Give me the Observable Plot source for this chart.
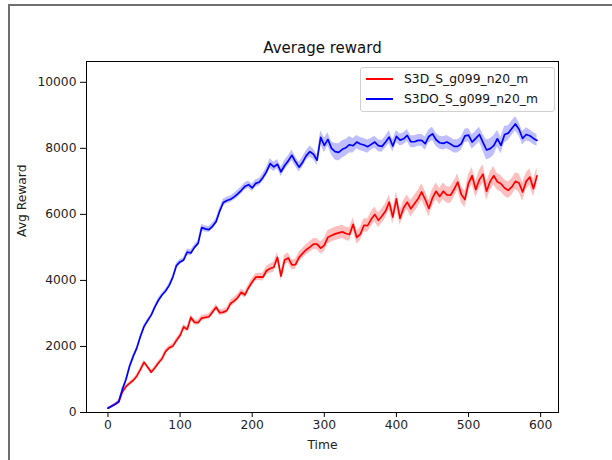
<!DOCTYPE html>
<html>
<head>
<meta charset="utf-8">
<script src="https://cdn.jsdelivr.net/npm/d3@7"></script>
<script src="https://cdn.jsdelivr.net/npm/@observablehq/plot@0.6"></script>
<style>
  body { margin: 0; background: white; }
  #wrap { position: relative; width: 612px; height: 460px; overflow: hidden; font-family: "DejaVu Sans", sans-serif; }
  #border { position: absolute; left: 8px; top: 4px; width: 700px; height: 600px; border-left: 2px solid #707070; border-top: 2px solid #707070; pointer-events: none; }
  #legend { position: absolute; left: 360px; top: 67px; width: 193px; height: 43px; border: 1px solid #d0d0d0; border-radius: 3px; background: rgba(255,255,255,0.85); font-size: 12.3px; }
  .item { position: absolute; left: 0; height: 16px; line-height: 16px; }
  .swatch { position: absolute; left: 5px; top: 7px; width: 27px; height: 2px; }
  .lab { position: absolute; left: 43px; top: 0; white-space: nowrap; color: #111; }
</style>
</head>
<body>
<div id="wrap">
  <div id="chart"></div>
  <div id="border"></div>
  <div id="legend"></div>
</div>
<script>
const times = d3.range(0, 600, 5);
const seriesNames = ["S3D_S_g099_n20_m", "S3DO_S_g099_n20_m"];
const seriesColors = ["#ff0000", "#0000ff"];
const xTicks = [0, 100, 200, 300, 400, 500, 600];
const yTicks = [0, 2000, 4000, 6000, 8000, 10000];

const redMean = [
  130,190,250,320,620,780,880,970,1100,1300,
  1520,1380,1220,1350,1500,1630,1850,1960,2010,2180,
  2330,2590,2520,2880,2730,2720,2860,2880,2900,3040,
  3190,3020,3040,3090,3300,3380,3480,3640,3560,3780,
  3950,4100,4110,4100,4300,4360,4400,4700,4130,4620,
  4680,4470,4480,4700,4820,4930,5010,5100,5100,4980,
  5060,5310,5360,5410,5440,5470,5420,5390,5700,5300,
  5400,5670,5660,5850,6000,5820,5950,6100,6370,5920,
  6470,5880,6200,6370,6170,6320,6470,6680,6450,6180,
  6500,6700,6540,6700,6590,6580,6760,6980,6600,6450,
  6950,7170,6750,7050,7220,6700,7000,7170,6990,6930,
  6800,6730,6830,7000,6950,6680,7000,7130,6780,7170
];
const redSpread = [
  20,20,30,40,50,50,50,50,60,60,
  60,60,60,60,60,60,70,70,70,70,
  70,80,80,80,80,80,80,80,80,80,
  90,90,90,90,100,100,100,100,100,100,
  110,110,110,120,130,140,150,150,150,150,
  150,150,150,150,150,160,160,160,170,180,
  200,200,200,200,200,200,200,200,200,200,
  200,200,200,220,220,220,220,220,220,220,
  220,220,220,220,250,250,250,250,250,250,
  250,250,250,250,250,250,250,250,250,250,
  250,250,250,280,280,280,280,280,250,250,
  250,250,250,250,280,280,250,250,250,250
];
const blueMean = [
  130,190,250,330,700,1000,1400,1700,1950,2300,
  2600,2780,2950,3190,3400,3560,3680,3850,4100,4450,
  4560,4620,4860,4830,5000,5120,5600,5560,5540,5640,
  5780,6100,6360,6420,6460,6530,6620,6730,6850,6900,
  6800,6940,6980,7120,7300,7540,7440,7520,7290,7480,
  7620,7790,7600,7430,7580,7780,7900,7820,7640,8330,
  8090,8270,8000,7900,7880,7970,8020,8110,8080,8190,
  8130,8100,8050,8120,8190,8080,8060,8190,8340,8070,
  8360,8250,8290,8390,8200,8200,8240,8240,8140,8360,
  8440,8260,8170,8150,8190,8130,8060,8060,8140,8380,
  8400,8190,8300,8420,8180,7950,7990,8080,8290,8090,
  8420,8460,8600,8740,8580,8300,8420,8380,8300,8240
];
const blueSpread = [
  20,20,30,40,50,50,50,50,50,50,
  50,50,50,50,60,60,60,60,60,70,
  70,70,90,90,80,80,100,90,90,90,
  90,100,100,100,100,100,110,110,110,110,
  110,110,110,120,130,150,140,140,140,150,
  150,160,150,150,150,150,170,160,160,200,
  220,200,200,250,260,260,250,250,220,200,
  200,200,200,180,180,180,180,180,200,180,
  180,180,180,180,180,180,180,180,200,200,
  200,200,200,200,200,200,200,200,200,200,
  200,220,220,220,250,300,300,300,250,250,
  250,220,220,220,200,200,200,180,180,180
];

const rows = (mean, spread) => times.map((t, i) => ({t, m: mean[i], lo: mean[i] - spread[i], hi: mean[i] + spread[i]}));
const redRows = rows(redMean, redSpread);
const blueRows = rows(blueMean, blueSpread);

const chart = Plot.plot({
  width: 612,
  height: 460,
  marginLeft: 86,
  marginRight: 54,
  marginTop: 61,
  marginBottom: 48,
  style: {fontFamily: "DejaVu Sans, sans-serif", fontSize: "12.3px", color: "#000", background: "white", overflow: "visible"},
  x: {domain: [-29.75, 624.75]},
  y: {domain: [0, 10630]},
  marks: [
    Plot.areaY(redRows, {x: "t", y1: "lo", y2: "hi", fill: seriesColors[0], fillOpacity: 0.25, curve: "linear"}),
    Plot.areaY(blueRows, {x: "t", y1: "lo", y2: "hi", fill: seriesColors[1], fillOpacity: 0.25, curve: "linear"}),
    Plot.lineY(redRows, {x: "t", y: "m", stroke: seriesColors[0], strokeWidth: 1.7}),
    Plot.lineY(blueRows, {x: "t", y: "m", stroke: seriesColors[1], strokeWidth: 1.7}),
    Plot.frame({stroke: "#000", strokeWidth: 1}),
    Plot.axisX({ticks: xTicks, tickSize: 5, tickPadding: 3, label: null, tickFormat: d => String(d), fill: "#222"}),
    Plot.axisY({ticks: yTicks, tickSize: 6, tickPadding: 4, label: null, tickFormat: d => String(d), fill: "#222"}),
    Plot.text(["Average reward"], {frameAnchor: "top", text: d => d, dy: -9, lineAnchor: "bottom", fontSize: 15, fill: "#111"}),
    Plot.text(["Time"], {frameAnchor: "bottom", text: d => d, dy: 33, lineAnchor: "middle", fontSize: 12.3, fill: "#222"}),
    Plot.text(["Avg Reward"], {frameAnchor: "left", text: d => d, dx: -64, rotate: -90, lineAnchor: "middle", fontSize: 12.3, fill: "#222"})
  ]
});
document.getElementById("chart").appendChild(chart);

const legend = document.getElementById("legend");
seriesNames.forEach((name, i) => {
  const item = document.createElement("div");
  item.className = "item";
  item.style.top = (3 + i * 20) + "px";
  item.style.width = "100%";
  const sw = document.createElement("div");
  sw.className = "swatch";
  sw.style.background = seriesColors[i];
  const lab = document.createElement("div");
  lab.className = "lab";
  lab.textContent = name;
  item.appendChild(sw);
  item.appendChild(lab);
  legend.appendChild(item);
});
</script>
</body>
</html>
